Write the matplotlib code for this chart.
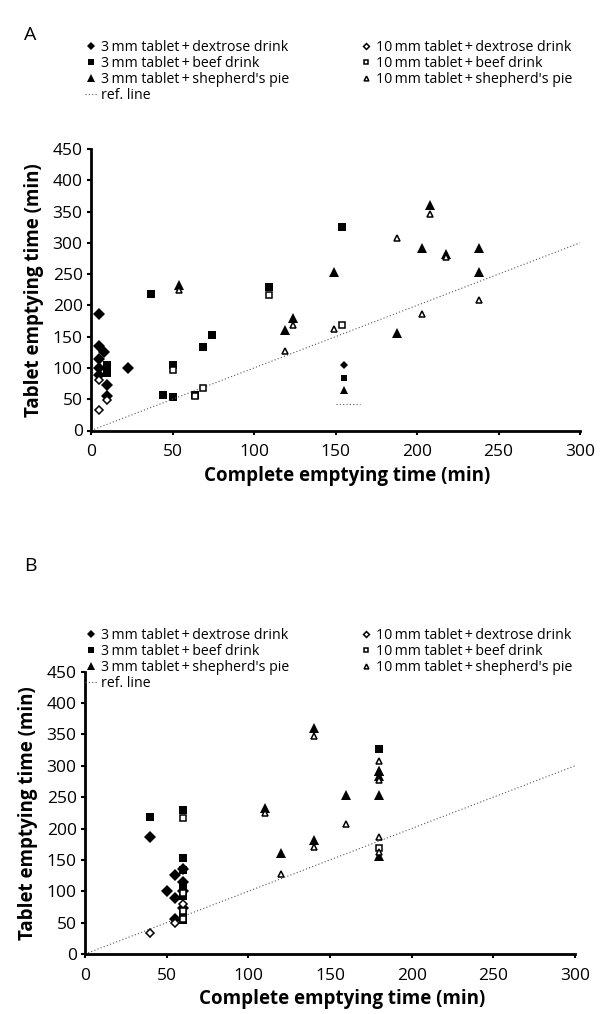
import numpy as np
import matplotlib
matplotlib.use("Agg")
import matplotlib.pyplot as plt

plt.rcParams['font.family'] = ['Open Sans', 'DejaVu Sans']

# ---- panel A data (complete emptying time, tablet emptying time) ----
a_dex3_x = [5, 5, 8, 5, 5, 5, 10, 10, 23]
a_dex3_y = [186, 135, 126, 115, 100, 89, 73, 55, 100]
a_dex10_x = [5, 5, 10]
a_dex10_y = [80, 33, 49]
a_beef3_x = [10, 10, 37, 50, 44, 50, 64, 69, 74, 109, 154]
a_beef3_y = [104, 92, 218, 104, 56, 54, 56, 134, 153, 230, 326]
a_beef10_x = [50, 69, 109, 154, 64]
a_beef10_y = [97, 68, 216, 169, 55]
a_pie3_x = [54, 208, 203, 218, 238, 149, 238, 188, 124, 119]
a_pie3_y = [233, 361, 292, 282, 292, 254, 254, 156, 180, 161]
a_pie10_x = [54, 208, 188, 218, 238, 203, 124, 119, 149]
a_pie10_y = [224, 346, 307, 278, 208, 186, 168, 127, 163]
# stray legend keys left inside panel A
a_key_x = [155, 155, 155]
a_key_y = [104, 84, 65]
a_keyline_x = [150, 165]
a_keyline_y = [43, 43]

# ---- panel B data ----
b_dex3_x = [40, 60, 55, 60, 50, 55, 60, 55, 60]
b_dex3_y = [186, 135, 126, 115, 100, 89, 73, 55, 100]
b_dex10_x = [60, 40, 55]
b_dex10_y = [80, 33, 49]
b_beef3_x = [60, 60, 40, 60, 60, 60, 60, 60, 60, 60, 180]
b_beef3_y = [104, 92, 218, 110, 56, 54, 62, 134, 153, 230, 326]
b_beef10_x = [60, 60, 60, 180, 60]
b_beef10_y = [97, 68, 216, 169, 55]
b_pie3_x = [110, 140, 180, 180, 180, 160, 180, 180, 140, 120]
b_pie3_y = [233, 361, 292, 284, 292, 254, 254, 156, 182, 161]
b_pie10_x = [110, 140, 180, 180, 160, 180, 140, 120, 180]
b_pie10_y = [224, 347, 307, 278, 208, 186, 170, 127, 163]

ref_x = [0, 300]
ref_y = [0, 300]

labels_3 = ["3\u2009mm tablet\u2009+\u2009dextrose drink",
            "3\u2009mm tablet\u2009+\u2009beef drink",
            "3\u2009mm tablet\u2009+\u2009shepherd's pie"]
labels_10 = ["10\u2009mm tablet\u2009+\u2009dextrose drink",
             "10\u2009mm tablet\u2009+\u2009beef drink",
             "10\u2009mm tablet\u2009+\u2009shepherd's pie"]

filled = dict(linestyle='none', color='black', markeredgewidth=0)
hollow = dict(linestyle='none', markerfacecolor='white', markeredgecolor='black',
              markeredgewidth=1.1)
sizes_filled = {'D': 6.0, 's': 6.0, '^': 7.0}
sizes_hollow = {'D': 4.0, 's': 4.2, '^': 4.6}


def drawPanel(fig, rect, data, letter, letter_y, legend_y, extra=None):
    ax = fig.add_axes(rect)
    handles = []
    for (x, y, m) in data[:3]:
        h, = ax.plot(x, y, marker=m, markersize=sizes_filled[m], **filled)
        handles.append(h)
    ref, = ax.plot(ref_x, ref_y, linestyle=(0, (1, 2)), color='#555555', linewidth=0.8)
    handles.append(ref)
    for (x, y, m) in data[3:]:
        h, = ax.plot(x, y, marker=m, markersize=sizes_hollow[m], **hollow)
        handles.append(h)
    if extra is not None:
        extra(ax)
    ax.set_xlim(0, 300)
    ax.set_ylim(0, 450)
    ax.set_xticks(np.arange(0, 301, 50))
    ax.set_yticks(np.arange(0, 451, 50))
    for s in ['top', 'right']:
        ax.spines[s].set_visible(False)
    for s in ['left', 'bottom']:
        ax.spines[s].set_linewidth(2.0)
    ax.tick_params(direction='out', length=3, width=1.5, labelsize=12.5, pad=3)
    ax.tick_params(axis='x', pad=7)
    ax.set_xlabel("Complete emptying time (min)", fontsize=13.5, fontweight='bold', labelpad=4)
    ax.xaxis.label.set_x(0.524)
    ax.set_ylabel("Tablet emptying time (min)", fontsize=13.5, fontweight='bold', labelpad=6)

    lab = labels_3 + ["ref. line"] + labels_10
    fig.legend(handles, lab, loc='upper left', ncol=2,
               bbox_to_anchor=(85 / 609, legend_y), frameon=False,
               fontsize=10.2, handlelength=0.9, handletextpad=0.25,
               columnspacing=4.95, labelspacing=0.07, markerscale=0.75,
               borderpad=0, borderaxespad=0)
    fig.text(24 / 609, letter_y, letter, fontsize=14, va='center')
    return ax


def strayKeys(ax):
    ax.plot(a_key_x[0], a_key_y[0], marker='D', markersize=4.5, **filled)
    ax.plot(a_key_x[1], a_key_y[1], marker='s', markersize=5, **filled)
    ax.plot(a_key_x[2], a_key_y[2], marker='^', markersize=5.5, **filled)
    ax.plot(a_keyline_x, a_keyline_y, linestyle=(0, (1, 2)), color='#555555', linewidth=0.8)


fig = plt.figure(figsize=(6.09, 10.14), dpi=100)

data_a = [(a_dex3_x, a_dex3_y, 'D'), (a_beef3_x, a_beef3_y, 's'), (a_pie3_x, a_pie3_y, '^'),
          (a_dex10_x, a_dex10_y, 'D'), (a_beef10_x, a_beef10_y, 's'), (a_pie10_x, a_pie10_y, '^')]
data_b = [(b_dex3_x, b_dex3_y, 'D'), (b_beef3_x, b_beef3_y, 's'), (b_pie3_x, b_pie3_y, '^'),
          (b_dex10_x, b_dex10_y, 'D'), (b_beef10_x, b_beef10_y, 's'), (b_pie10_x, b_pie10_y, '^')]

drawPanel(fig, [91 / 609, 1 - 430.5 / 1014, 489 / 609, 281.5 / 1014], data_a, "A",
          1 - 35 / 1014, 1 - 40 / 1014, extra=strayKeys)
drawPanel(fig, [85 / 609, 1 - 954 / 1014, 490 / 609, 282.3 / 1014], data_b, "B",
          1 - 566 / 1014, 1 - 628 / 1014)

fig.savefig("out.png", dpi=100)
